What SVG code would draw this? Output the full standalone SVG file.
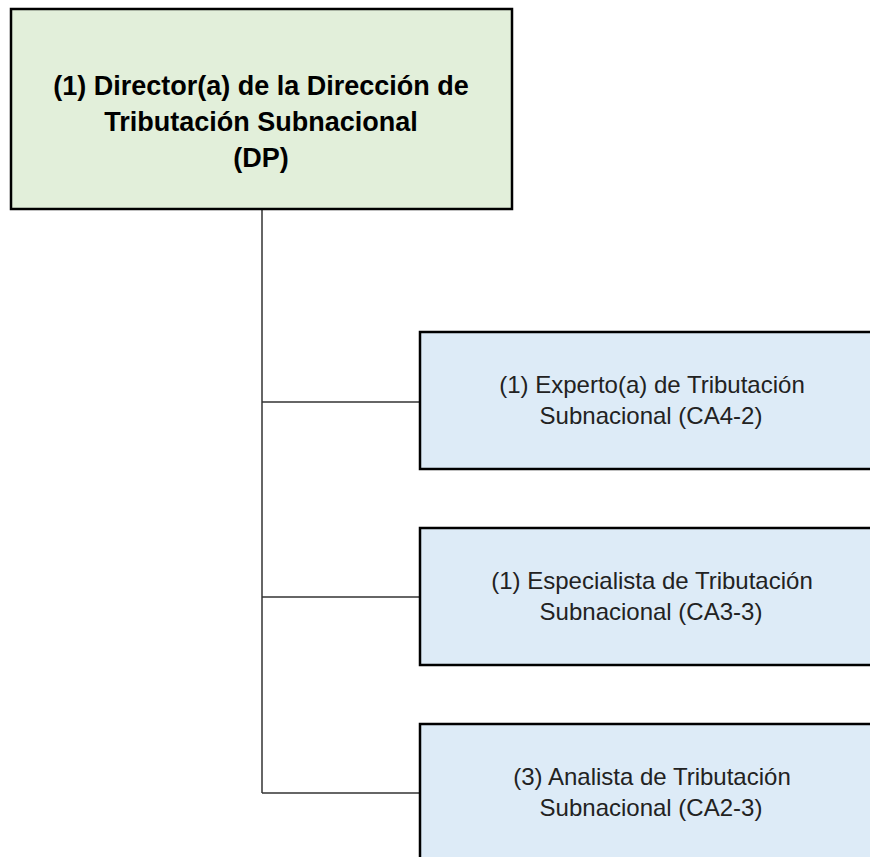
<svg xmlns="http://www.w3.org/2000/svg" width="870" height="857" viewBox="0 0 870 857">
<style>
.box{stroke:#000;stroke-width:2.5}
.top{fill:#e2efda}
.child{fill:#ddebf7}
.conn{fill:none;stroke:#333;stroke-width:1.5}
.tb{font-family:"Liberation Sans",Arial,sans-serif;font-weight:bold;font-size:27px;fill:#000;text-anchor:middle}
.tc{font-family:"Liberation Sans",Arial,sans-serif;font-size:24px;fill:#222;text-anchor:middle}
</style>
<rect width="870" height="857" fill="#fff"/>
<g id="connectors">
<path class="conn" d="M262,209 V793"/>
<path class="conn" d="M262,402 H420"/>
<path class="conn" d="M262,597 H420"/>
<path class="conn" d="M262,793 H420"/>
</g>
<g id="node-director">
<rect class="box top" x="11" y="9" width="501" height="200" stroke-width="2"/>
<text class="tb" x="261" y="95">(1) Director(a) de la Dirección de</text>
<text class="tb" x="261" y="131">Tributación Subnacional</text>
<text class="tb" x="261" y="167">(DP)</text>
</g>
<g id="node-experto">
<rect class="box child" x="420" y="332" width="462" height="137"/>
<text class="tc" x="652" y="393">(1) Experto(a) de Tributación</text>
<text class="tc" x="651" y="424">Subnacional (CA4-2)</text>
</g>
<g id="node-especialista">
<rect class="box child" x="420" y="528" width="462" height="137"/>
<text class="tc" x="652" y="589">(1) Especialista de Tributación</text>
<text class="tc" x="651" y="620">Subnacional (CA3-3)</text>
</g>
<g id="node-analista">
<rect class="box child" x="420" y="724" width="462" height="150"/>
<text class="tc" x="652" y="785">(3) Analista de Tributación</text>
<text class="tc" x="651" y="816">Subnacional (CA2-3)</text>
</g>
</svg>
